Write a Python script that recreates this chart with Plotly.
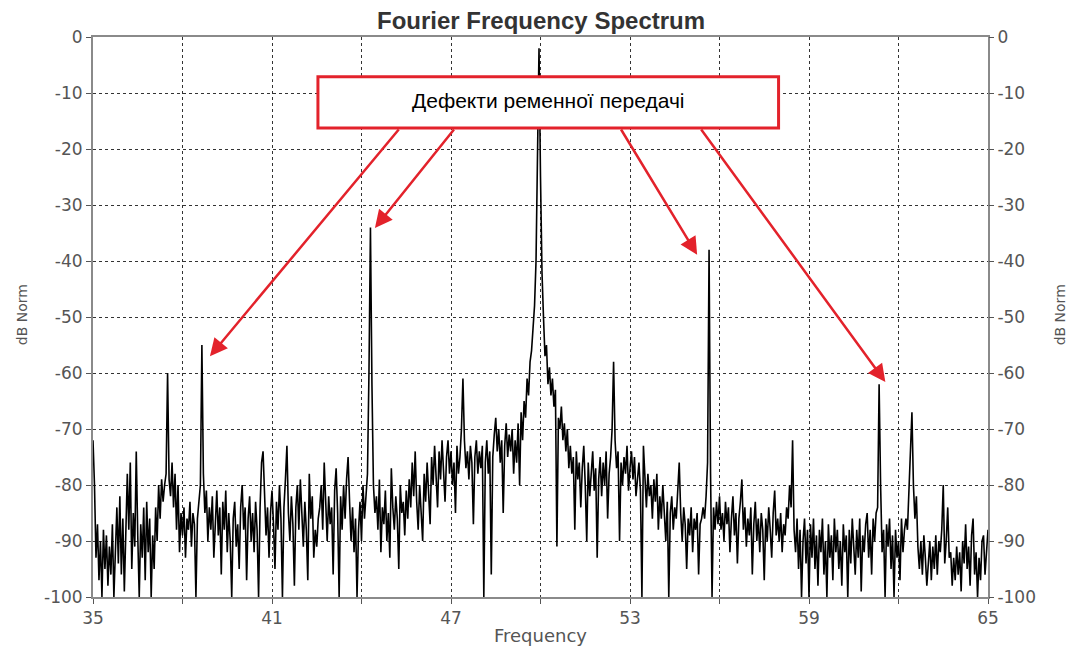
import plotly.graph_objects as go

# ---- data ----
freq_start = 35.0
freq_step = 0.05
spectrum_db = [
    # 35
    -72, -80, -93, -87, -97, -90, -100, -88, -95, -89, -98, -91, -96, -87, -100, -92, -84, -94, -82, -96,
    # 36
    -86, -99, -90, -78, -88, -76, -95, -85, -91, -74, -89, -100, -87, -93, -84, -97, -83, -92, -86, -100,
    # 37
    -89, -95, -84, -90, -80, -86, -79, -83, -80, -78, -60, -79, -82, -76, -84, -78, -88, -80, -92, -85,
    # 38
    -89, -84, -93, -86, -88, -83, -91, -85, -87, -100, -86, -82, -80, -55, -78, -85, -81, -90, -84, -88,
    # 39
    -82, -93, -86, -81, -89, -84, -96, -83, -88, -81, -92, -85, -90, -100, -86, -83, -91, -87, -95, -84,
    # 40
    -80, -88, -84, -97, -86, -82, -90, -85, -92, -83, -88, -100, -84, -76, -74, -82, -89, -84, -93, -85,
    # 41
    -81, -87, -95, -83, -88, -80, -86, -100, -84, -79, -73, -85, -90, -82, -87, -98, -84, -80, -88, -79,
    # 42
    -85, -91, -83, -88, -97, -78, -86, -82, -93, -88, -91, -86, -84, -80, -88, -76, -83, -90, -82, -87,
    # 43
    -84, -96, -81, -77, -85, -100, -82, -88, -80, -86, -79, -75, -83, -90, -84, -92, -86, -100, -88, -83,
    # 44
    -90, -80, -86, -82, -78, -60, -34, -62, -80, -85, -82, -88, -79, -92, -84, -87, -81, -90, -85, -93,
    # 45
    -77, -84, -88, -82, -86, -95, -80, -85, -83, -89, -81, -86, -79, -84, -76, -82, -74, -83, -88, -80,
    # 46
    -85, -90, -78, -83, -76, -81, -87, -75, -80, -73, -78, -84, -74, -79, -72, -77, -83, -75, -72, -78,
    # 47
    -74, -80, -76, -85, -73, -78, -75, -70, -61, -72, -77, -74, -79, -73, -76, -87, -75, -72, -78, -74,
    # 48
    -77, -73, -100, -76, -72, -78, -74, -96, -75, -71, -68, -74, -70, -76, -72, -85, -73, -69, -75, -71,
    # 49
    -74, -70, -78, -72, -76, -69, -80, -67, -72, -65, -68, -61, -64, -58, -56, -52, -48, -40, -20, -2,
    # 50
    -25, -42, -50, -57, -55, -62, -59, -64, -61, -66, -63, -91, -68, -70, -66, -72, -69, -74, -70, -77,
    # 51
    -73, -78, -75, -88, -74, -79, -76, -84, -77, -73, -80, -90, -76, -82, -78, -74, -81, -77, -93, -79,
    # 52
    -75, -82, -76, -80, -74, -86, -78, -75, -70, -58, -72, -77, -74, -90, -76, -80, -75, -78, -73, -81,
    # 53
    -77, -74, -79, -75, -82, -78, -76, -81, -100, -73, -79, -84, -78, -82, -80, -86, -79, -83, -78, -88,
    # 54
    -82, -86, -80, -84, -90, -83, -100, -85, -82, -88, -84, -86, -82, -76, -85, -90, -84, -87, -95, -86,
    # 55
    -89, -84, -92, -86, -88, -85, -96, -87, -86, -84, -86, -82, -76, -38, -78, -100, -84, -88, -83, -87,
    # 56
    -82, -88, -85, -90, -83, -87, -84, -92, -86, -82, -89, -85, -94, -86, -83, -79, -88, -84, -91, -86,
    # 57
    -89, -84, -96, -87, -83, -90, -86, -92, -85, -88, -97, -86, -90, -84, -88, -93, -85, -81, -89, -86,
    # 58
    -90, -85, -92, -87, -89, -84, -86, -80, -84, -72, -88, -92, -86, -95, -88, -100, -90, -86, -94, -88,
    # 59
    -100, -87, -93, -86, -95, -89, -98, -88, -92, -86, -96, -90, -100, -87, -93, -89, -97, -86, -92, -88,
    # 60
    -95, -90, -98, -87, -92, -89, -100, -88, -94, -86, -91, -96, -88, -93, -86, -99, -89, -92, -87, -85,
    # 61
    -93, -88, -96, -86, -90, -85, -84, -62, -80, -92, -88, -100, -87, -91, -86, -95, -89, -100, -88, -93,
    # 62
    -90, -97, -86, -92, -88, -86, -88, -82, -74, -67, -80, -86, -82, -91, -95, -90, -96, -89, -93, -98,
    # 63
    -94, -90, -97, -91, -95, -89, -96, -90, -92, -88, -80, -94, -90, -84, -93, -92, -98, -93, -97, -91,
    # 64
    -96, -92, -99, -90, -94, -87, -95, -91, -98, -89, -86, -96, -92, -100, -93, -97, -90, -89, -96, -92,
    # 65
    -88,
]
frequency = [round(freq_start + freq_step * i, 2) for i in range(len(spectrum_db))]

x_tick_vals = [35, 38, 41, 44, 47, 50, 53, 56, 59, 62, 65]
x_tick_text = ["35", "", "41", "", "47", "", "53", "", "59", "", "65"]
y_tick_vals = [0, -10, -20, -30, -40, -50, -60, -70, -80, -90, -100]
y_tick_text = ["0", "-10", "-20", "-30", "-40", "-50", "-60", "-70", "-80", "-90", "-100"]

title_text = "Fourier Frequency Spectrum"
x_title = "Frequency"
y_title = "dB Norm"
callout_text = "Дефекти ременної передачі"
callout_box = dict(x0=42.54, x1=57.98, y0=-16.25, y1=-7.1)
callout_center = (50.26, -11.4)
# arrows: (tail_x, tail_y, head_x, head_y)
arrows = [
    (45.29, -16.25, 38.92, -57.0),
    (47.14, -16.25, 44.45, -34.1),
    (52.67, -16.25, 55.25, -38.9),
    (55.35, -16.25, 61.56, -61.6),
]

# ---- figure ----
fig = go.Figure()
fig.add_trace(go.Scatter(
    x=frequency, y=spectrum_db, mode="lines",
    line=dict(color="black", width=1.6),
    showlegend=False, hoverinfo="skip",
))
fig.add_trace(go.Scatter(
    x=[35], y=[0], yaxis="y2", mode="markers",
    marker=dict(opacity=0), showlegend=False, hoverinfo="skip",
))

tick_font = dict(family="DejaVu Sans", size=17, color="#555555")
axis_common = dict(
    showline=True, linecolor="#8a8a8a", linewidth=2,
    showgrid=True, gridcolor="#333333", gridwidth=1, griddash="dot",
    ticks="outside", ticklen=5, tickcolor="#555555", tickwidth=1,
    tickfont=tick_font, zeroline=False,
)

fig.update_layout(
    width=1070, height=646,
    margin=dict(l=93, r=82, t=37, b=49),
    paper_bgcolor="white", plot_bgcolor="white",
    xaxis=dict(range=[35, 65], tickvals=x_tick_vals, ticktext=x_tick_text,
               mirror=True, **axis_common),
    yaxis=dict(range=[-100, 0], tickvals=y_tick_vals, ticktext=y_tick_text,
               mirror=True, **axis_common),
    yaxis2=dict(range=[-100, 0], tickvals=y_tick_vals, ticktext=y_tick_text,
                overlaying="y", side="right",
                showline=False, showgrid=False, ticks="outside", ticklen=5,
                tickcolor="#555555", tickfont=tick_font, zeroline=False),
    showlegend=False,
)

fig.add_shape(type="rect", xref="x", yref="y", layer="above",
              x0=callout_box["x0"], x1=callout_box["x1"],
              y0=callout_box["y0"], y1=callout_box["y1"],
              line=dict(color="#e3222b", width=3), fillcolor="white")

annotations = [
    dict(text=callout_text, x=callout_center[0], y=callout_center[1], xref="x", yref="y",
         showarrow=False, font=dict(family="Arial", size=21, color="black")),
    dict(text="<b>" + title_text + "</b>", x=0.5, y=1.030, xref="paper", yref="paper",
         showarrow=False, yanchor="middle", font=dict(family="Arial", size=24, color="#333333")),
    dict(text=x_title, x=0.5, y=-0.068, xref="paper", yref="paper", showarrow=False,
         yanchor="middle", font=dict(family="DejaVu Sans", size=18, color="#555555")),
    dict(text=y_title, x=-0.080, y=0.504, xref="paper", yref="paper", showarrow=False,
         xanchor="center", yanchor="middle",
         textangle=-90, font=dict(family="DejaVu Sans", size=14, color="#555555")),
    dict(text=y_title, x=1.080, y=0.504, xref="paper", yref="paper", showarrow=False,
         xanchor="center", yanchor="middle",
         textangle=-90, font=dict(family="DejaVu Sans", size=14, color="#555555")),
]
for tx, ty, hx, hy in arrows:
    annotations.append(dict(
        x=hx, y=hy, ax=tx, ay=ty, xref="x", yref="y", axref="x", ayref="y",
        text="", showarrow=True, arrowhead=2, arrowsize=1.4, arrowwidth=2.5,
        arrowcolor="#e3222b", standoff=0, startstandoff=0,
    ))
fig.update_layout(annotations=annotations)

fig.write_html("out.html")
